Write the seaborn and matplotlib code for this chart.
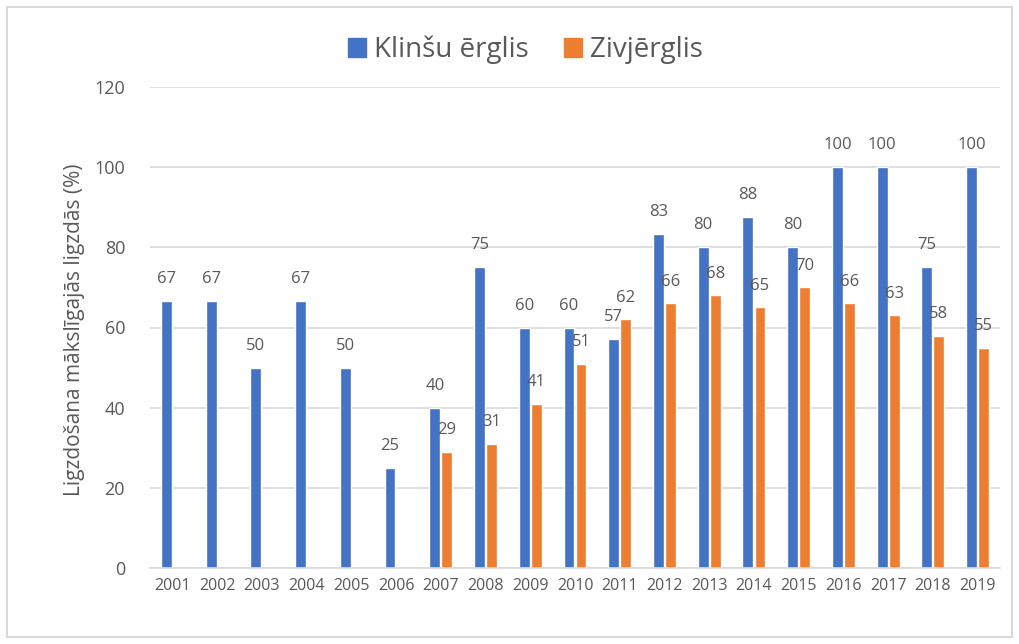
import numpy as np
import pandas as pd
import matplotlib.pyplot as plt
import seaborn as sns
from matplotlib.patches import Rectangle

# --- Dati ---
years = [str(y) for y in range(2001, 2020)]
klinsu_erglis = [66.7, 66.7, 50, 66.7, 50, 25, 40, 75, 60, 60, 57.1, 83.3, 80, 87.5, 80, 100, 100, 75, 100]
zivjerglis = [np.nan] * 6 + [29, 31, 41, 51, 62, 66, 68, 65, 70, 66, 63, 58, 55]
series_names = ['Klinšu ērglis', 'Zivjērglis']
colors = ['#4472c4', '#ed7d31']

df = pd.DataFrame({
    'Gads': years * 2,
    'Vērtība': klinsu_erglis + zivjerglis,
    'Suga': [series_names[0]] * len(years) + [series_names[1]] * len(years),
})

sns.set_theme(style='white')
plt.rcParams['font.family'] = ['Open Sans', 'DejaVu Sans']
text_col = '#595959'
grid_col = '#d9d9d9'

fig = plt.figure(figsize=(10.2, 6.44), dpi=100)
ax = fig.add_axes([150 / 1020, 76 / 644, 850 / 1020, 481 / 644])

sns.barplot(data=df, x='Gads', y='Vērtība', hue='Suga', hue_order=series_names,
            palette=colors, width=0.54, gap=0.1, saturation=1, ax=ax, legend=False)

# vērtību etiķetes virs stabiņiem
for container in ax.containers:
    ax.bar_label(container, fmt='{:.0f}', padding=10, fontsize=12, color=text_col)

ax.set_ylim(0, 120)
ax.set_yticks(range(0, 121, 20))
ax.set_xlim(-0.5, len(years) - 0.5)
ax.yaxis.grid(True, color=grid_col, linewidth=1.2)
ax.set_axisbelow(True)
for side in ['top', 'right', 'left']:
    ax.spines[side].set_visible(False)
ax.spines['bottom'].set_color(grid_col)
ax.spines['bottom'].set_linewidth(1.2)
ax.tick_params(axis='both', length=0, colors=text_col)
ax.tick_params(axis='x', labelsize=11.5, pad=7)
ax.tick_params(axis='y', labelsize=13, pad=18)
ax.set_xlabel('')
ax.set_ylabel('Ligzdošana mākslīgajās ligzdās (%)', fontsize=15, color=text_col)
ax.yaxis.set_label_coords(-0.076, 0.495)

# leģenda augšā
handles = [Rectangle((0, 0), 1, 1, color=c) for c in colors]
fig.legend(handles, series_names, loc='center', bbox_to_anchor=(0.515, 0.922), ncol=2,
           frameon=False, fontsize=20, handlelength=0.65, handleheight=0.65,
           handletextpad=0.3, columnspacing=1.25, labelcolor=text_col)

# rāmis ap visu attēlu
fig.patches.append(Rectangle((7 / 1020, 7 / 644), 1005 / 1020, 630 / 644, transform=fig.transFigure,
                             fill=False, edgecolor=grid_col, linewidth=1.5))

fig.savefig('out.png', dpi=100)
